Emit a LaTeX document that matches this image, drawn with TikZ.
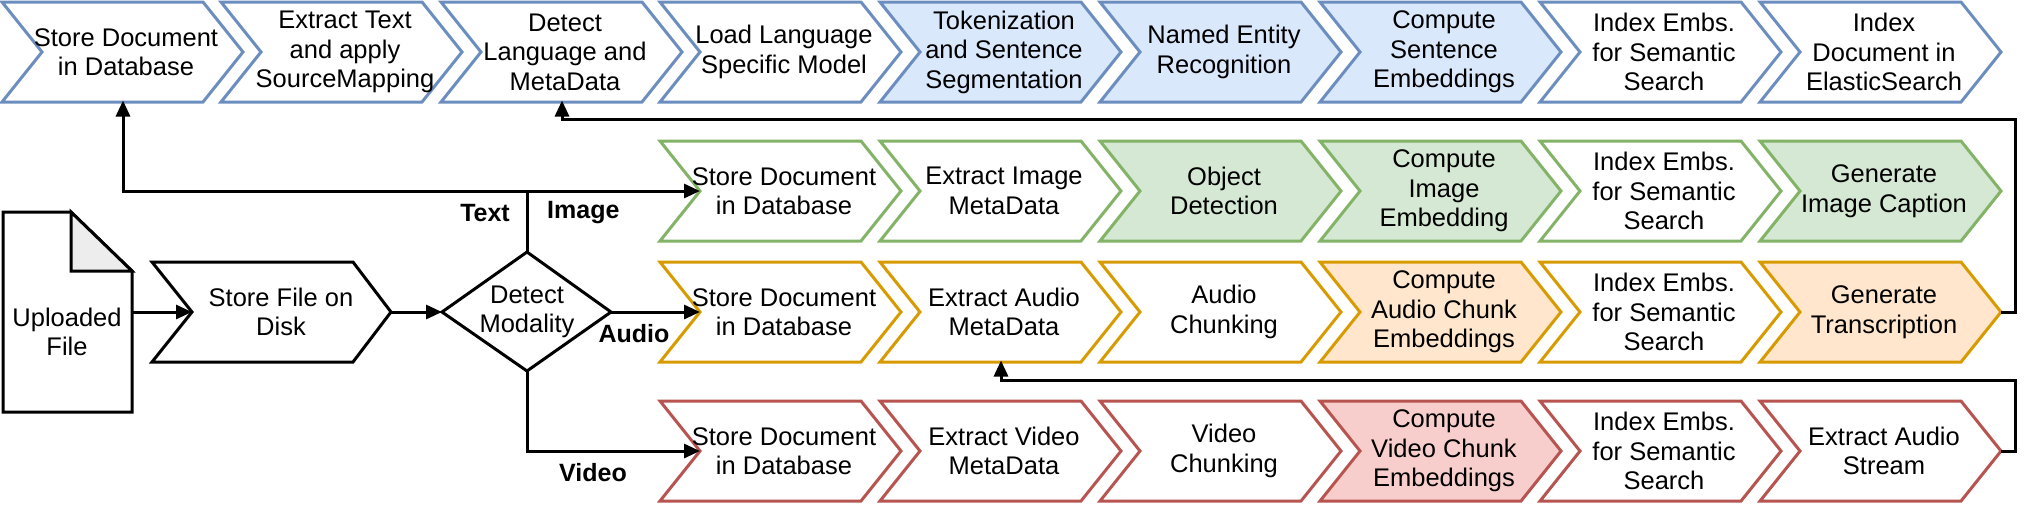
\documentclass[tikz,border=0pt]{standalone}
\usepackage{fontspec}
\setmainfont{Liberation Sans}
\usetikzlibrary{arrows.meta}
\definecolor{bS}{HTML}{6C8EBF}\definecolor{bF}{HTML}{DAE8FC}
\definecolor{gS}{HTML}{82B366}\definecolor{gF}{HTML}{D5E8D4}
\definecolor{oS}{HTML}{D79B00}\definecolor{oF}{HTML}{FFE6CC}
\definecolor{rS}{HTML}{B85450}\definecolor{rF}{HTML}{F8CECC}
\tikzset{
 txt/.style={align=center,font=\fontsize{25.5}{29.5}\selectfont,inner sep=0pt},
 conn/.style={line width=3pt,-{Triangle[length=16pt,width=14pt]}},
 line/.style={line width=3pt},
 lab/.style={font=\fontsize{25}{29}\selectfont\bfseries,inner sep=0pt},
}
% #1 name, #2 x, #3 yc, #4 stroke, #5 fill, #6 text
\newcommand\chev[6]{%
 \draw[line width=3pt,draw=#4,fill=#5] (#2,#3-50)--(#2+201,#3-50)--(#2+241,#3)--(#2+201,#3+50)--(#2,#3+50)--(#2+40,#3)--cycle;
 \node[txt] (#1) at (#2+124,#3) {#6};
 \coordinate (#1-in) at (#2+40,#3);
 \coordinate (#1-out) at (#2+241,#3);
 \coordinate (#1-b) at (#2+121,#3+50);
}
\begin{document}
\begin{tikzpicture}[x=1pt,y=-1pt]
\useasboundingbox (0,0) rectangle (2031,512);
% top row
\chev{t1}{2}{52}{bS}{white}{Store Document\\in Database}
\chev{t2}{221}{52}{bS}{white}{Extract Text\\and apply\\SourceMapping}
\chev{t3}{441}{52}{bS}{white}{Detect\\Language and\\MetaData}
\chev{t4}{660}{52}{bS}{white}{Load Language\\Specific Model}
\chev{t5}{880}{52}{bS}{bF}{Tokenization\\and Sentence\\Segmentation}
\chev{t6}{1100}{52}{bS}{bF}{Named Entity\\Recognition}
\chev{t7}{1320}{52}{bS}{bF}{Compute\\Sentence\\Embeddings}
\chev{t8}{1540}{52}{bS}{white}{Index Embs.\\for Semantic\\Search}
\chev{t9}{1760}{52}{bS}{white}{Index\\Document in\\ElasticSearch}
% image row
\chev{i1}{660}{191}{gS}{white}{Store Document\\in Database}
\chev{i2}{880}{191}{gS}{white}{Extract Image\\MetaData}
\chev{i3}{1100}{191}{gS}{gF}{Object\\Detection}
\chev{i4}{1320}{191}{gS}{gF}{Compute\\Image\\Embedding}
\chev{i5}{1540}{191}{gS}{white}{Index Embs.\\for Semantic\\Search}
\chev{i6}{1760}{191}{gS}{gF}{Generate\\Image Caption}
% audio row
\chev{a1}{660}{312}{oS}{white}{Store Document\\in Database}
\chev{a2}{880}{312}{oS}{white}{Extract Audio\\MetaData}
\chev{a3}{1100}{312}{oS}{white}{Audio\\Chunking}
\chev{a4}{1320}{312}{oS}{oF}{Compute\\Audio Chunk\\Embeddings}
\chev{a5}{1540}{312}{oS}{white}{Index Embs.\\for Semantic\\Search}
\chev{a6}{1760}{312}{oS}{oF}{Generate\\Transcription}
% video row
\chev{v1}{660}{451}{rS}{white}{Store Document\\in Database}
\chev{v2}{880}{451}{rS}{white}{Extract Video\\MetaData}
\chev{v3}{1100}{451}{rS}{white}{Video\\Chunking}
\chev{v4}{1320}{451}{rS}{rF}{Compute\\Video Chunk\\Embeddings}
\chev{v5}{1540}{451}{rS}{white}{Index Embs.\\for Semantic\\Search}
\chev{v6}{1760}{451}{rS}{white}{Extract Audio\\Stream}
% uploaded file
\draw[line width=3pt] (3,212)--(71,212)--(132,271)--(132,412)--(3,412)--cycle;
\draw[line width=3pt,fill=black!7] (71,212)--(132,271)--(71,271)--cycle;
\node[txt] (file) at (67,332) {Uploaded\\File};
\coordinate (file-out) at (132,312);
% store file on disk
\draw[line width=3pt] (152,262)--(353,262)--(391,312)--(353,362)--(152,362)--(192,312)--cycle;
\node[txt] (disk) at (281,312) {Store File on\\Disk};
\coordinate (disk-in) at (192,312);
\coordinate (disk-out) at (391,312);
% diamond
\draw[line width=3pt] (527,252)--(611,312)--(527,371)--(442,312)--cycle;
\node[txt] (mod) at (527,312) {Detect\\Modality};
\coordinate (mod-l) at (442,312);
\coordinate (mod-r) at (611,312);
\coordinate (mod-t) at (527,252);
\coordinate (mod-b) at (527,371);
\coordinate (split) at (527,191);
% connectors
\draw[conn] (file-out) -- (disk-in);
\draw[conn] (disk-out) -- (mod-l);
\draw[conn] (mod-r) -- (a1-in);
\draw[line] (mod-t) -- (split);
\draw[conn] (split) -- (i1-in);
\draw[conn] (split) -| ([yshift=1.5pt]t1-b);
\draw[conn] (mod-b) |- (v1-in);
\draw[conn] (a6-out) -- (2015,312) |- (562,119) -- ([yshift=1.5pt]t3-b);
\draw[conn] (v6-out) -- (2015,451) |- (1001,380) -- ([yshift=1.5pt]a2-b);
% labels
\node[lab,anchor=east] (lt) at (510,213) {Text};
\node[lab,anchor=west] (li) at (547,213) {Image};
\node[lab] (la) at (634,334) {Audio};
\node[lab] (lv) at (593,473) {Video};
\end{tikzpicture}
\end{document}
